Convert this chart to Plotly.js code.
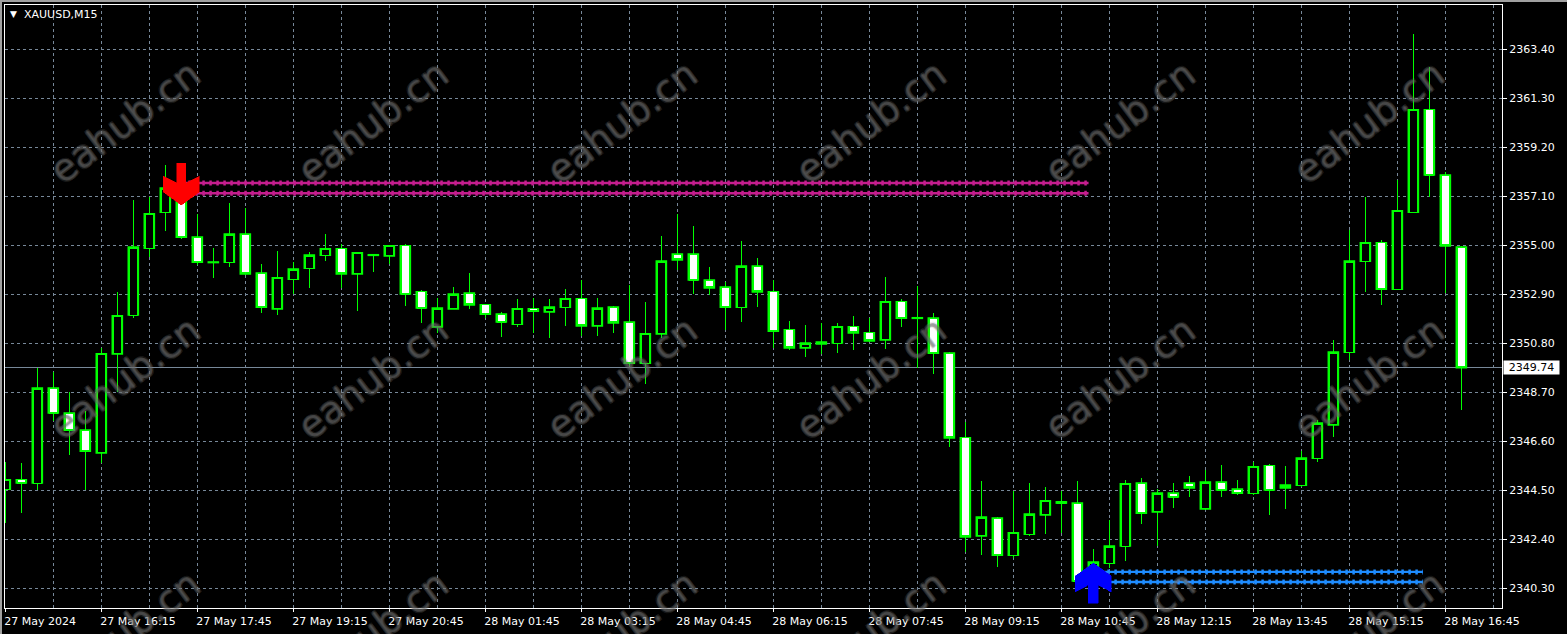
<!DOCTYPE html>
<html><head><meta charset="utf-8">
<script src="https://cdn.plot.ly/plotly-3.0.1.min.js"></script>
<style>
html,body{margin:0;padding:0;background:#000;overflow:hidden;}
#chart{width:1565px;height:632px;border-left:2px solid #a0a0a0;border-top:2px solid #a0a0a0;}
#chart .gridlayer path, #chart .minor-gridlayer path, #chart .boxlayer path, #chart .shapelayer path{shape-rendering:crispEdges;}
</style></head><body><div id="chart"></div>
<script>
// ---- data (XAUUSD M15) ----
var opens = [
2344.54,2344.93,2344.80,2348.87,2347.80,2347.07,2346.09,2350.33,2352.00,2354.87,
2356.41,2357.40,2355.34,2354.27,2354.27,2355.47,2353.80,2352.26,2353.54,2354.01,
2354.57,2354.83,2353.76,2354.58,2354.53,2354.96,2352.99,2351.49,2352.26,2352.94,
2352.43,2352.04,2351.61,2352.26,2352.13,2352.34,2352.69,2351.53,2352.34,2351.70,
2349.94,2351.19,2354.61,2354.61,2353.50,2353.20,2352.34,2354.10,2352.99,2351.36,
2350.59,2350.76,2350.80,2351.49,2351.23,2350.93,2352.56,2351.88,2351.87,2350.37,
2346.73,2342.53,2343.30,2341.71,2342.61,2343.43,2343.94,2343.94,2340.99,2341.37,
2342.10,2344.80,2343.56,2344.37,2344.80,2343.69,2344.84,2344.54,2344.37,2345.53,
2344.59,2344.71,2345.87,2347.29,2350.41,2354.31,2355.09,2353.11,2356.41,2360.79,
2358.00,2354.91];
var highs = [
2345.70,2345.66,2349.73,2349.56,2348.70,2347.89,2350.59,2352.99,2356.93,2357.06,
2358.43,2357.79,2356.33,2354.87,2356.80,2356.59,2354.19,2354.74,2354.27,2354.70,
2355.47,2355.04,2354.70,2354.59,2355.00,2355.04,2353.07,2352.73,2353.20,2353.80,
2352.43,2352.13,2352.69,2352.73,2352.69,2353.11,2353.50,2352.73,2352.39,2353.29,
2352.56,2355.39,2356.33,2355.81,2354.06,2353.41,2355.17,2354.44,2353.50,2351.74,
2351.57,2351.66,2351.66,2351.96,2351.87,2353.63,2352.69,2353.24,2352.09,2350.40,
2347.41,2344.89,2343.34,2344.46,2344.80,2344.63,2344.46,2344.89,2341.97,2343.21,
2344.93,2345.01,2344.54,2344.80,2345.10,2345.36,2345.57,2344.93,2345.70,2345.61,
2345.53,2346.17,2347.50,2350.93,2355.64,2357.06,2355.21,2357.79,2364.04,2362.63,
2358.13,2354.96];
var lows = [
2343.09,2343.51,2344.50,2347.46,2346.00,2344.50,2345.66,2348.70,2351.87,2354.49,
2355.60,2355.26,2354.14,2353.59,2354.06,2353.71,2352.09,2352.00,2352.90,2353.16,
2354.31,2353.16,2352.17,2353.84,2354.19,2352.39,2351.66,2351.23,2352.24,2352.26,
2351.87,2351.06,2351.49,2351.23,2351.01,2351.53,2351.10,2351.10,2351.23,2349.81,
2349.04,2351.01,2353.93,2352.90,2352.86,2351.36,2351.70,2352.34,2350.59,2350.50,
2350.20,2350.33,2350.37,2350.50,2350.84,2350.54,2351.49,2349.73,2349.47,2346.34,
2341.84,2341.71,2341.20,2341.59,2342.53,2342.61,2342.66,2340.51,2340.64,2341.16,
2341.46,2343.04,2342.10,2343.73,2344.20,2343.64,2344.20,2344.29,2344.29,2343.43,
2343.69,2344.63,2345.70,2346.77,2350.07,2352.99,2352.43,2353.07,2356.38,2357.06,
2352.94,2347.93];
var closes = [
2344.93,2344.80,2348.87,2347.80,2347.07,2346.17,2350.33,2351.96,2354.91,2356.33,
2357.44,2355.34,2354.27,2354.25,2355.47,2353.76,2352.34,2353.59,2353.97,2354.57,
2354.83,2353.76,2354.66,2354.56,2354.96,2352.90,2352.30,2352.30,2352.90,2352.43,
2352.04,2351.70,2352.26,2352.17,2352.34,2352.69,2351.53,2352.30,2351.66,2349.94,
2351.19,2354.31,2354.36,2353.50,2353.16,2352.34,2354.10,2352.99,2351.31,2350.59,
2350.80,2350.84,2351.49,2351.23,2350.89,2352.56,2351.87,2351.86,2350.37,2346.73,
2342.49,2343.34,2341.71,2342.66,2343.47,2344.03,2343.99,2340.60,2341.41,2342.10,
2344.76,2343.51,2344.37,2344.20,2344.59,2344.84,2344.50,2344.37,2345.49,2344.50,
2344.71,2345.87,2347.37,2350.41,2354.31,2355.09,2353.11,2356.46,2360.79,2358.00,
2354.96,2349.74];

var timeTickBars = [0,6,12,18,24,30,36,42,48,54,60,66,72,78,84,90];
var timeTickLabels = ["27 May 2024","27 May 16:15","27 May 17:45","27 May 19:15","27 May 20:45",
  "28 May 01:45","28 May 03:15","28 May 04:45","28 May 06:15","28 May 07:45","28 May 09:15",
  "28 May 10:45","28 May 12:15","28 May 13:45","28 May 15:15","28 May 16:45"];
var priceTicks = [2340.30,2342.40,2344.50,2346.60,2348.70,2350.80,2352.90,2355.00,2357.10,2359.20,2361.30,2363.40];
var lastPrice = 2349.74;

// signals and signal levels
var sellSignalBar = 11, sellSignalPrice = 2356.71;
var buySignalBar = 68, buySignalPrice = 2341.37;
var sellLevels = [2357.66, 2357.22], sellLevelFrom = 11, sellLevelTo = 67.7;
var buyLevels = [2340.99, 2340.56], buyLevelFrom = 68, buyLevelTo = 88.6;

var symbolTitle = "XAUUSD,M15";
var watermarkText = "eahub.cn";

// ---- styling / layout ----
var FONT = "DejaVu Sans, Verdana, sans-serif";
var GRID = "#778899";
var LIME = "#00ff00";
var bars = opens.map(function(_, i){ return i; });

var traces = [
  // wicks (and thin bodies) of the candles
  {type: 'candlestick', x: bars, open: opens, high: highs, low: lows, close: closes,
   increasing: {line: {color: LIME, width: 1}, fillcolor: '#000000'},
   decreasing: {line: {color: LIME, width: 1}, fillcolor: '#ffffff'},
   whiskerwidth: 0, hoverinfo: 'skip', showlegend: false},
  // candle bodies with a bolder outline
  {type: 'bar', x: bars,
   base: opens.map(function(o, i){ return Math.min(o, closes[i]); }),
   y: opens.map(function(o, i){ return Math.abs(closes[i] - o); }),
   width: 0.62, hoverinfo: 'skip', showlegend: false,
   marker: {color: opens.map(function(o, i){ return closes[i] >= o ? '#000000' : '#ffffff'; }),
            line: {color: LIME, width: 1.7}}}
];

function levelTraces(levels, x0, x1, color) {
  levels.forEach(function(lv){
    traces.push({type:'scatter', mode:'lines', x:[x0,x1], y:[lv,lv], hoverinfo:'skip', showlegend:false,
      line:{color:color, width:2.4}});
    traces.push({type:'scatter', mode:'lines', x:[x0,x1], y:[lv,lv], hoverinfo:'skip', showlegend:false,
      line:{color:color, width:5, dash:'2.5px,4.5px'}});
  });
}
levelTraces(sellLevels, sellLevelFrom, sellLevelTo, '#c41e8e');
levelTraces(buyLevels, buyLevelFrom, buyLevelTo, '#1e8cff');

// plot geometry in px within the div (frame at page x 5..1502, y 5..608)
var PL = 3, PT = 3, PR = 65, PB = 26, W = 1565, H = 632;
var plotW = W - PL - PR, plotH = H - PT - PB;
function px2paperX(px){ return (px - 5) / plotW; }
function py2paperY(py){ return (608 - py) / plotH; }

var annotations = [];
var wmCols = [125, 373, 622, 871, 1120, 1369], wmRows = [122, 378, 632];
var wmEdge = 'rgba(140,140,140,0.42)';
wmRows.forEach(function(r){ wmCols.forEach(function(c){
  annotations.push({xref:'paper', yref:'paper', x:px2paperX(c), y:py2paperY(r), text:watermarkText,
    showarrow:false, textangle:-37, xanchor:'center', yanchor:'middle',
    font:{family:FONT, size:38, color:'rgba(90,90,90,0.42)',
      shadow:'1px 1px 0 '+wmEdge+', -1px -1px 0 '+wmEdge+', 1px -1px 0 '+wmEdge+', -1px 1px 0 '+wmEdge}});
});});
annotations.push({xref:'paper', yref:'paper', x:px2paperX(22), y:py2paperY(14.5), text:symbolTitle,
  showarrow:false, xanchor:'left', yanchor:'middle', font:{family:FONT, size:11, color:'#ffffff'}});
annotations.push({xref:'paper', yref:'paper', x:px2paperX(13), y:py2paperY(14.5), text:'\u25BC',
  showarrow:false, xanchor:'center', yanchor:'middle', font:{family:FONT, size:9, color:'#ffffff'}});
annotations.push({xref:'paper', yref:'y', x:1, y:lastPrice, text:lastPrice.toFixed(2),
  showarrow:false, xanchor:'left', yanchor:'middle', bgcolor:'#ffffff', width:55, height:13,
  borderpad:0, xshift:1, font:{family:FONT, size:11, color:'#000000'}});

var shapes = [
  {type:'line', xref:'paper', x0:0, x1:1, yref:'y', y0:lastPrice, y1:lastPrice, layer:'between',
   line:{color:GRID, width:1}},
  {type:'path', xref:'x', yref:'y', xsizemode:'pixel', ysizemode:'pixel', xanchor:sellSignalBar, yanchor:sellSignalPrice,
   path:'M0,0 L-18,13 L-18,29 L-4.5,22 L-4.5,42 L4.5,42 L4.5,22 L18,29 L18,13 Z',
   fillcolor:'#ff0000', line:{color:'#ff0000', width:0.5}},
  {type:'path', xref:'x', yref:'y', xsizemode:'pixel', ysizemode:'pixel', xanchor:buySignalBar, yanchor:buySignalPrice,
   path:'M0,0 L-18,-13 L-18,-29 L-5,-22 L-5,-40 L5,-40 L5,-22 L18,-29 L18,-13 Z',
   fillcolor:'#0000ff', line:{color:'#0000ff', width:0.5}}
];

var axisFont = {family:FONT, size:11, color:'#ffffff'};
var layout = {
  width: W, height: H, margin:{l:PL, r:PR, t:PT, b:PB, pad:0},
  paper_bgcolor:'#000000', plot_bgcolor:'#000000', showlegend:false, barmode:'overlay',
  xaxis:{type:'linear', range:[-0.02, 93.54], fixedrange:true,
    tickmode:'array', tickvals:timeTickBars, ticktext:timeTickLabels,
    ticks:'outside', ticklen:3, tickcolor:'#ffffff', tickwidth:1,
    ticklabelposition:'outside right', ticklabelshift:-2, ticklabelstandoff:3, tickfont:axisFont,
    showgrid:true, gridcolor:GRID, griddash:'3px,3px', gridwidth:1,
    minor:{tickmode:'linear', tick0:0, dtick:3, showgrid:true, gridcolor:GRID, griddash:'3px,3px', gridwidth:1, ticks:''},
    showline:true, linecolor:'#ffffff', linewidth:1, mirror:true, zeroline:false,
    rangeslider:{visible:false}},
  yaxis:{side:'right', range:[2339.443, 2365.286], fixedrange:true,
    tickmode:'array', tickvals:priceTicks, ticktext:priceTicks.map(function(v){return v.toFixed(2);}),
    ticks:'outside', ticklen:4, tickcolor:'#ffffff', tickwidth:1, tickfont:axisFont,
    showgrid:true, gridcolor:GRID, griddash:'3px,3px', gridwidth:1,
    showline:true, linecolor:'#ffffff', linewidth:1, mirror:true, zeroline:false},
  annotations: annotations, shapes: shapes
};
Plotly.newPlot('chart', traces, layout, {staticPlot:true, displayModeBar:false});
</script></body></html>
